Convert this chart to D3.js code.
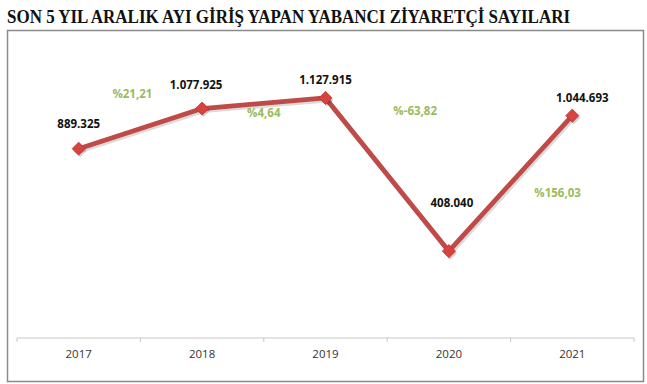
<!DOCTYPE html>
<html>
<head>
<meta charset="utf-8">
<script src="https://cdn.jsdelivr.net/npm/d3@7"></script>
<style>
html,body{margin:0;padding:0;background:#fff;}
svg{display:block;}
</style>
</head>
<body>
<svg id="chart" width="647" height="384"></svg>
<script>
const title = "SON 5 YIL ARALIK AYI GİRİŞ YAPAN YABANCI ZİYARETÇİ SAYILARI";
const years = ["2017", "2018", "2019", "2020", "2021"];
const visitors = [889325, 1077925, 1127915, 408040, 1044693];
const valueLabels = ["889.325", "1.077.925", "1.127.915", "408.040", "1.044.693"];
const changeLabels = ["%21,21", "%4,64", "%-63,82", "%156,03"];

// layout (label nudges, not data)
const valueOffsets = [[0, -21], [-6, -20], [0, -14], [3, -44], [10, -14]];
const changeOffsets = [[-8, -31], [0, 14], [28, -60], [47, 14]];

const svg = d3.select("#chart");

svg.append("text")
  .attr("x", 7).attr("y", 23)
  .attr("font-family", "'Liberation Serif', serif")
  .attr("font-weight", "bold")
  .attr("font-size", 18)
  .attr("textLength", 563)
  .attr("lengthAdjust", "spacingAndGlyphs")
  .attr("fill", "#111")
  .text(title);

svg.append("rect")
  .attr("x", 7.5).attr("y", 30.5).attr("width", 636).attr("height", 351)
  .attr("fill", "#fff").attr("stroke", "#8a8a8a").attr("stroke-width", 1.5);

const x = d3.scaleBand().domain(years).range([17, 634]);
const y = d3.scaleLinear().domain([0, 1400000]).range([338, 40]);

const axis = svg.append("g").attr("transform", "translate(0,338)");
axis.append("line").attr("x1", 17).attr("x2", 634).attr("stroke", "#c8c8c8").attr("stroke-width", 1);
const tickPos = years.map(d => x(d)).concat([x(years[years.length - 1]) + x.bandwidth()]);
axis.selectAll("line.tick").data(tickPos).enter().append("line")
  .attr("class", "tick")
  .attr("x1", d => d).attr("x2", d => d).attr("y1", 0).attr("y2", 4)
  .attr("stroke", "#c8c8c8");
axis.selectAll("text").data(years).enter().append("text")
  .attr("x", d => x(d) + x.bandwidth() / 2)
  .attr("y", 20)
  .attr("text-anchor", "middle")
  .attr("font-family", "'Open Sans', sans-serif")
  .attr("font-size", 11.5)
  .attr("fill", "#333")
  .text(d => d);

const cx = d => x(d) + x.bandwidth() / 2;
const pts = years.map((d, i) => [cx(d), y(visitors[i])]);

const line = d3.line();
svg.append("path")
  .attr("d", line(pts.map(p => [p[0] + 1.5, p[1] + 2])))
  .attr("fill", "none").attr("stroke", "rgba(0,0,0,0.14)").attr("stroke-width", 5)
  .attr("stroke-linejoin", "round");
svg.append("path")
  .attr("d", line(pts))
  .attr("fill", "none").attr("stroke", "#bf4a47").attr("stroke-width", 4.8)
  .attr("stroke-linejoin", "round");

const diamond = d3.symbol().type(d3.symbolDiamond2).size(110);
svg.selectAll("path.shadowm").data(pts).enter().append("path")
  .attr("d", diamond)
  .attr("transform", p => `translate(${p[0] + 1.5},${p[1] + 2})`)
  .attr("fill", "rgba(0,0,0,0.18)");
svg.selectAll("path.marker").data(pts).enter().append("path")
  .attr("class", "marker")
  .attr("d", diamond)
  .attr("transform", p => `translate(${p[0]},${p[1]})`)
  .attr("fill", "#d8433e").attr("stroke", "#b53a36").attr("stroke-width", 0.8);

svg.selectAll("text.val").data(valueLabels).enter().append("text")
  .attr("class", "val")
  .attr("x", (d, i) => pts[i][0] + valueOffsets[i][0])
  .attr("y", (d, i) => pts[i][1] + valueOffsets[i][1])
  .attr("text-anchor", "middle")
  .attr("font-family", "'Open Sans', sans-serif")
  .attr("font-weight", "bold")
  .attr("font-size", 11.5)
  .attr("fill", "#111")
  .text(d => d);

svg.selectAll("text.chg").data(changeLabels).enter().append("text")
  .attr("class", "chg")
  .attr("x", (d, i) => (pts[i][0] + pts[i + 1][0]) / 2 + changeOffsets[i][0])
  .attr("y", (d, i) => (pts[i][1] + pts[i + 1][1]) / 2 + changeOffsets[i][1])
  .attr("text-anchor", "middle")
  .attr("font-family", "'Open Sans', sans-serif")
  .attr("font-weight", "bold")
  .attr("font-size", 11.5)
  .attr("fill", "#9bbb59")
  .text(d => d);
</script>
</body>
</html>
